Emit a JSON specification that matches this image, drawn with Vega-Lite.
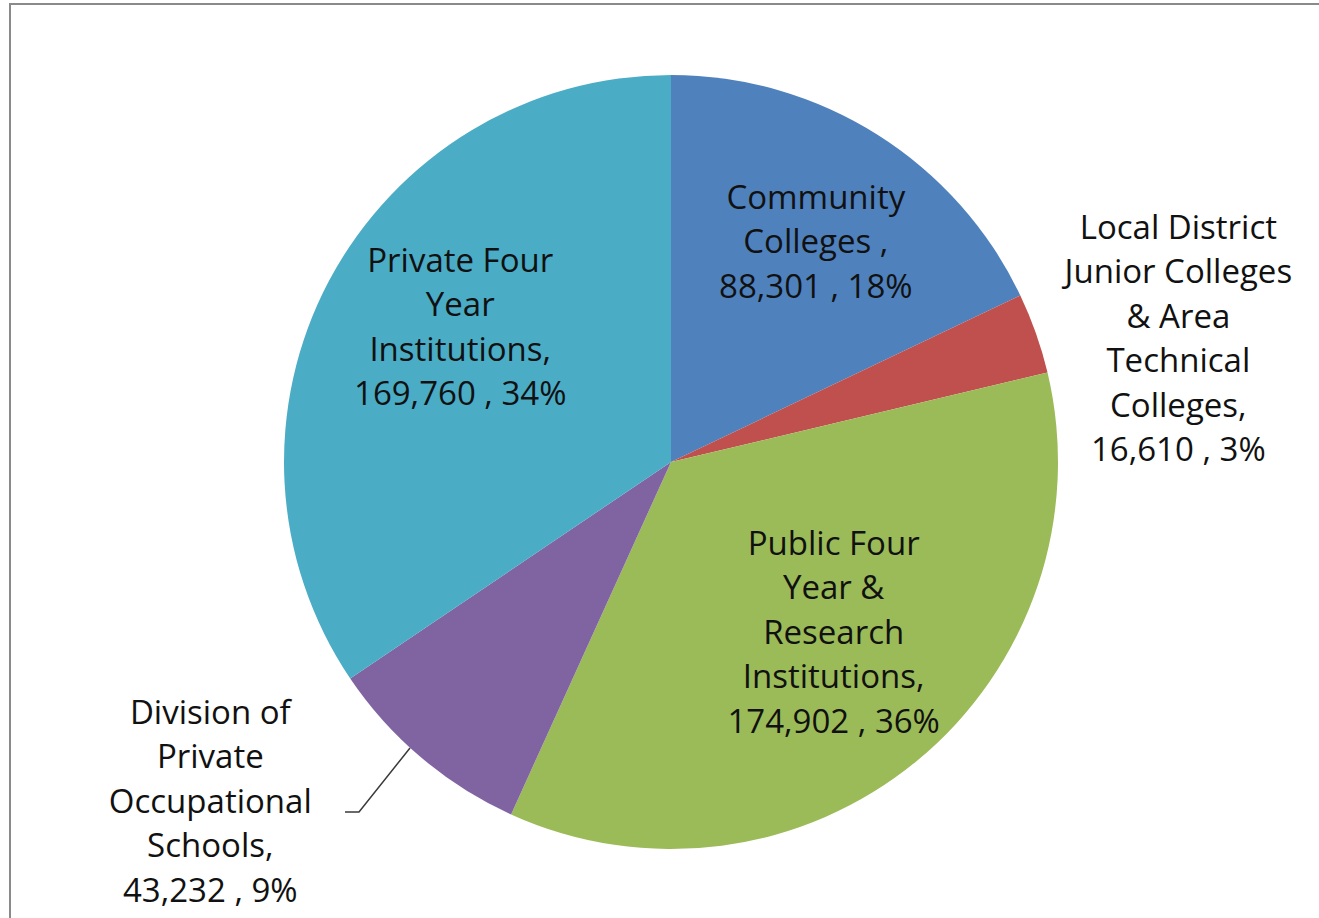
{
  "$schema": "https://vega.github.io/schema/vega-lite/v6.json",
  "width": 1322,
  "height": 916,
  "autosize": "none",
  "padding": {"left": 10, "top": 4, "right": -13, "bottom": -2},
  "background": "white",
  "config": {"view": {"stroke": "#8a8a8a", "strokeWidth": 2}},
  "datasets": {
    "slices": [
      {"idx": 1, "category": "Community Colleges", "value": 88301, "label": "Community\nColleges ,\n88,301 , 18%"},
      {"idx": 2, "category": "Local District Junior Colleges & Area Technical Colleges", "value": 16610, "label": "Local District\nJunior Colleges\n& Area\nTechnical\nColleges,\n16,610 , 3%"},
      {"idx": 3, "category": "Public Four Year & Research Institutions", "value": 174902, "label": "Public Four\nYear &\nResearch\nInstitutions,\n174,902 , 36%"},
      {"idx": 4, "category": "Division of Private Occupational Schools", "value": 43232, "label": "Division of\nPrivate\nOccupational\nSchools,\n43,232 , 9%"},
      {"idx": 5, "category": "Private Four Year Institutions", "value": 169760, "label": "Private Four\nYear\nInstitutions,\n169,760 , 34%"}
    ],
    "leader": [
      {"i": 0, "x": -0.8424, "y": -0.9044},
      {"i": 1, "x": -0.8062, "y": -0.9044},
      {"i": 2, "x": -0.6744, "y": -0.739}
    ]
  },
  "layer": [
    {
      "data": {"name": "slices"},
      "encoding": {
        "theta": {"field": "value", "type": "quantitative", "stack": true},
        "order": {"field": "idx", "type": "quantitative"},
        "detail": {"field": "category", "type": "nominal"}
      },
      "layer": [
        {
          "mark": {"type": "arc", "outerRadius": 387},
          "encoding": {
            "color": {
              "field": "category", "type": "nominal", "legend": null,
              "scale": {
                "domain": ["Community Colleges", "Local District Junior Colleges & Area Technical Colleges", "Public Four Year & Research Institutions", "Division of Private Occupational Schools", "Private Four Year Institutions"],
                "range": ["#4F81BD", "#C0504D", "#9BBB59", "#8064A2", "#4BACC6"]
              }
            }
          }
        },
        {
          "mark": {"type": "text", "radius": 262, "dx": 5, "dy": -41.5, "font": "Open Sans", "fontSize": 33, "lineHeight": 44.5, "lineBreak": "\n", "align": "center", "baseline": "middle", "color": "#111111"},
          "encoding": {"text": {"condition": {"test": "datum.idx === 1", "field": "label"}, "value": ""}}
        },
        {
          "mark": {"type": "text", "radius": 521, "dx": 16, "dy": -60, "font": "Open Sans", "fontSize": 33, "lineHeight": 44.5, "lineBreak": "\n", "align": "center", "baseline": "middle", "color": "#111111"},
          "encoding": {"text": {"condition": {"test": "datum.idx === 2", "field": "label"}, "value": ""}}
        },
        {
          "mark": {"type": "text", "radius": 237, "dx": 12, "dy": -100, "font": "Open Sans", "fontSize": 33, "lineHeight": 44.5, "lineBreak": "\n", "align": "center", "baseline": "middle", "color": "#111111"},
          "encoding": {"text": {"condition": {"test": "datum.idx === 3", "field": "label"}, "value": ""}}
        },
        {
          "mark": {"type": "text", "radius": 500, "dx": -138, "dy": -130, "font": "Open Sans", "fontSize": 33, "lineHeight": 44.5, "lineBreak": "\n", "align": "center", "baseline": "middle", "color": "#111111"},
          "encoding": {"text": {"condition": {"test": "datum.idx === 4", "field": "label"}, "value": ""}}
        },
        {
          "mark": {"type": "text", "radius": 250, "dx": 10, "dy": -83, "font": "Open Sans", "fontSize": 33, "lineHeight": 44.5, "lineBreak": "\n", "align": "center", "baseline": "middle", "color": "#111111"},
          "encoding": {"text": {"condition": {"test": "datum.idx === 5", "field": "label"}, "value": ""}}
        }
      ]
    },
    {
      "data": {"name": "leader"},
      "mark": {"type": "line", "color": "#3a3a3a", "strokeWidth": 1.5},
      "encoding": {
        "x": {"field": "x", "type": "quantitative", "axis": null, "scale": {"domain": [-1.708, 1.708], "nice": false, "zero": false}},
        "y": {"field": "y", "type": "quantitative", "axis": null, "scale": {"domain": [-1.1835, 1.1835], "nice": false, "zero": false}},
        "order": {"field": "i", "type": "quantitative"}
      }
    }
  ]
}
